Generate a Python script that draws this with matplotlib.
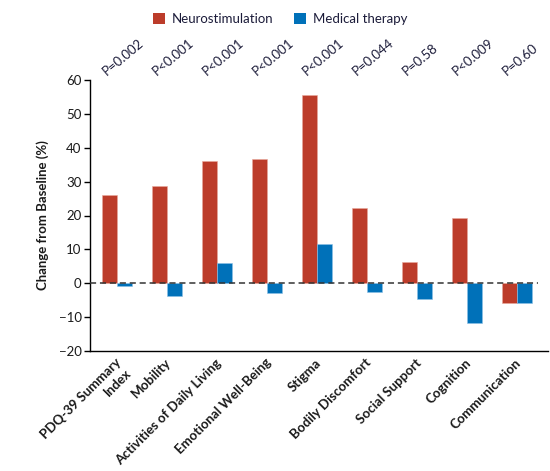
import matplotlib.pyplot as plt
import matplotlib.transforms as mtransforms
from matplotlib.patches import Patch
import numpy as np

# ── Data ───────────────────────────────────────────────────────────────────────

categories = [
    "PDQ-39 Summary\nIndex", "Mobility", "Activities of Daily Living",
    "Emotional Well-Being", "Stigma", "Bodily Discomfort",
    "Social Support", "Cognition", "Communication",
]
neuro   = [26.0, 28.6, 36.0, 36.6, 55.5, 22.1, 6.2, 19.3, -5.7]
medical = [-0.9, -3.8, 6.0, -2.9, 11.6, -2.5, -4.7, -11.8, -5.7]
pvalues = ["P=0.002", "P<0.001", "P<0.001", "P<0.001", "P<0.001",
           "P=0.044", "P=0.58", "P<0.009", "P=0.60"]
yticks  = [-20, -10, 0, 10, 20, 30, 40, 50, 60]

# ── Style ──────────────────────────────────────────────────────────────────────

RED  = "#bc3c2a"
BLUE = "#0071b9"
TEXT = "#1a1a1a"
NAVY = "#1c1c3a"

plt.rcParams["font.family"] = ["Lato", "DejaVu Sans"]

fig = plt.figure(figsize=(5.5, 4.71), dpi=100)
ax = fig.add_axes([90 / 550, 1 - 351 / 471, 458 / 550, 271 / 471])

x = np.arange(len(categories))
w = 0.3
ax.bar(x - w / 2, neuro, width=w, color=RED, edgecolor="#e8a89c", linewidth=0.4, zorder=2)
ax.bar(x + w / 2, medical, width=w, color=BLUE, edgecolor="#8cc0e6", linewidth=0.4, zorder=2)

# dashed baseline at zero
ax.plot([-0.54, 8.42], [0, 0], color="#333333", linestyle=(0, (4, 2.5)),
        linewidth=1.1, zorder=3)

ax.set_xlim(-0.54, 8.62)
ax.set_ylim(-20, 60)
ax.set_yticks(yticks)
ax.set_yticklabels([str(v).replace("-", "\u2212") for v in yticks], fontsize=9.5, color=TEXT)
ax.set_ylabel("Change from Baseline (%)", fontsize=9.5, fontweight="bold",
              color=TEXT, labelpad=7)

ax.set_xticks(x)
ax.set_xticklabels(categories, rotation=45, ha="right", rotation_mode="anchor",
                   fontsize=9.5, fontweight="bold", color=TEXT, multialignment="right")
ax.tick_params(axis="x", length=0, pad=4)
ax.tick_params(axis="y", length=4, width=1, direction="out", pad=2)
# shift x labels a little left of the category centre
offset = mtransforms.ScaledTranslation(-2 / 100, 0, fig.dpi_scale_trans)
for lbl in ax.get_xticklabels():
    lbl.set_transform(lbl.get_transform() + offset)

for s in ["top", "right"]:
    ax.spines[s].set_visible(False)
ax.spines["left"].set_linewidth(1)
ax.spines["bottom"].set_linewidth(1)

# P-values above each group
trans = mtransforms.blended_transform_factory(ax.transData, ax.transAxes)
for xi, p in zip(x, pvalues):
    ax.text(xi - 0.2, 1.015, p, transform=trans, rotation=40, rotation_mode="anchor",
            ha="left", va="baseline", fontsize=9.5, color=NAVY, clip_on=False)

# legend
handles = [Patch(facecolor=RED, label="Neurostimulation"),
           Patch(facecolor=BLUE, label="Medical therapy")]
fig.legend(handles=handles, loc="center", bbox_to_anchor=(280 / 550, 1 - 19 / 471),
           ncol=2, frameon=False, fontsize=9.5, handlelength=0.9, handleheight=0.9,
           columnspacing=1.6, handletextpad=0.5, labelcolor=NAVY)

plt.savefig("out.png", dpi=100)
